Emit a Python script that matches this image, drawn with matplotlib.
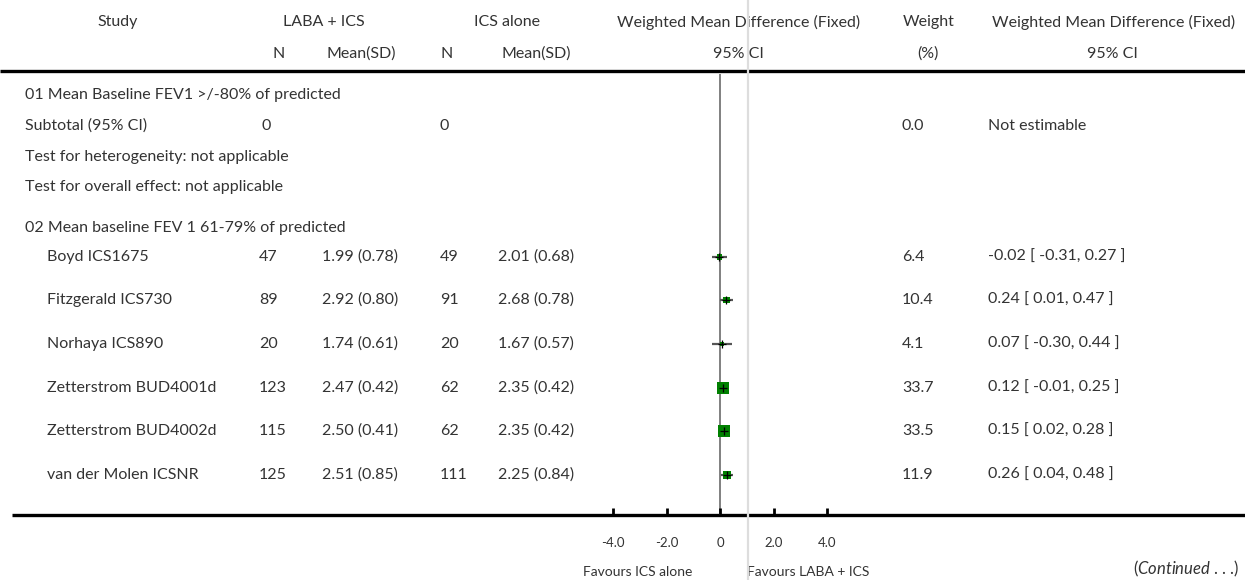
"""Forest plot: LABA + ICS vs ICS alone, FEV1 subgroups."""
import matplotlib
matplotlib.use("Agg")
import matplotlib.pyplot as plt
import numpy as np

plt.rcParams["font.family"] = ["Lato", "DejaVu Sans"]
plt.rcParams["mathtext.fontset"] = "custom"
plt.rcParams["mathtext.rm"] = "Lato"
plt.rcParams["mathtext.it"] = "Lato:italic"

# ── data ──────────────────────────────────────────────────────────────────
STUDIES   = ["Boyd ICS1675", "Fitzgerald ICS730", "Norhaya ICS890",
             "Zetterstrom BUD4001d", "Zetterstrom BUD4002d", "van der Molen ICSNR"]
N_LABA    = [47, 89, 20, 123, 115, 125]
MEAN_LABA = [1.99, 2.92, 1.74, 2.47, 2.50, 2.51]
SD_LABA   = [0.78, 0.80, 0.61, 0.42, 0.41, 0.85]
N_ICS     = [49, 91, 20, 62, 62, 111]
MEAN_ICS  = [2.01, 2.68, 1.67, 2.35, 2.35, 2.25]
SD_ICS    = [0.68, 0.78, 0.57, 0.42, 0.42, 0.84]
WMD       = [-0.02, 0.24, 0.07, 0.12, 0.15, 0.26]
CI_LO     = [-0.31, 0.01, -0.30, -0.01, 0.02, 0.04]
CI_HI     = [0.27, 0.47, 0.44, 0.25, 0.28, 0.48]
WEIGHT    = [6.4, 10.4, 4.1, 33.7, 33.5, 11.9]
X_TICKS   = [-4.0, -2.0, 0.0, 2.0, 4.0]
X_TICK_LABELS = ["-4.0", "-2.0", "0", "2.0", "4.0"]

# ── layout (pixels, y from top) ───────────────────────────────────────────
W, H = 1245, 580
ROW_Y = [257, 300, 344, 388, 431, 475]
TOP_RULE, BOTTOM_RULE = 71, 515
ZERO_PX, PX_PER_UNIT = 720, 26.75
FX_LEFT, FX_RIGHT = 560, 880
TXT = "#333333"
FS = 11.5

fig = plt.figure(figsize=(W / 100, H / 100), dpi=100)
ax = fig.add_axes([0, 0, 1, 1])
ax.set_xlim(0, W)
ax.set_ylim(H, 0)
ax.axis("off")

fx = fig.add_axes([FX_LEFT / W, (H - BOTTOM_RULE) / H,
                   (FX_RIGHT - FX_LEFT) / W, BOTTOM_RULE / H])
fx.set_xlim((FX_LEFT - ZERO_PX) / PX_PER_UNIT, (FX_RIGHT - ZERO_PX) / PX_PER_UNIT)
fx.set_ylim(BOTTOM_RULE, 0)
fx.patch.set_alpha(0)
for s in fx.spines.values():
    s.set_visible(False)
fx.set_yticks([])
fx.set_xticks(X_TICKS)
fx.set_xticklabels(X_TICK_LABELS, fontsize=9.5, color=TXT)
fx.tick_params(axis="x", direction="in", length=5, width=2, color="black", pad=16)

# faint reference line across the whole figure
fx.axvline(1.05, ymin=-(H - BOTTOM_RULE) / BOTTOM_RULE, ymax=1, color="#dddddd",
           lw=1.6, clip_on=False, zorder=0)
# line of no effect
fx.vlines(0, TOP_RULE + 3, BOTTOM_RULE, color="#808080", lw=1.4, zorder=1)

# ── header ────────────────────────────────────────────────────────────────
def t(x, y, s, ha="left", **kw):
    ax.text(x, y, s, ha=ha, va="center", fontsize=kw.pop("fontsize", FS),
            color=TXT, **kw)

t(118, 22, "Study", ha="center")
t(324, 22, "LABA + ICS", ha="center")
t(507, 22, "ICS alone", ha="center")
t(739, 22, "Weighted Mean Difference (Fixed)", ha="center")
t(929, 22, "Weight", ha="center")
t(1114, 22, "Weighted Mean Difference (Fixed)", ha="center")
t(279, 54, "N", ha="center")
t(361, 54, "Mean(SD)", ha="center")
t(447, 54, "N", ha="center")
t(536, 54, "Mean(SD)", ha="center")
t(738, 54, "95% CI", ha="center")
t(928, 54, "(%)", ha="center")
t(1112, 54, "95% CI", ha="center")
ax.plot([0, W], [TOP_RULE, TOP_RULE], color="black", lw=2.4, solid_capstyle="butt")

# ── subgroup 01 ───────────────────────────────────────────────────────────
t(25, 95, "01 Mean Baseline FEV1 >/-80% of predicted")
t(25, 126, "Subtotal (95% CI)")
t(261, 126, "0")
t(440, 126, "0")
t(902, 126, "0.0")
t(988, 126, "Not estimable")
t(25, 157, "Test for heterogeneity: not applicable")
t(25, 187, "Test for overall effect: not applicable")

# ── subgroup 02 ───────────────────────────────────────────────────────────
t(25, 228, "02 Mean baseline FEV 1 61-79% of predicted")
for i, y in enumerate(ROW_Y):
    t(47, y, STUDIES[i])
    t(259, y, f"{N_LABA[i]}")
    t(322, y, f"{MEAN_LABA[i]:.2f} ({SD_LABA[i]:.2f})")
    t(440, y, f"{N_ICS[i]}")
    t(498, y, f"{MEAN_ICS[i]:.2f} ({SD_ICS[i]:.2f})")
    t(902, y, f"{WEIGHT[i]:.1f}")
    t(988, y, f"{WMD[i]:.2f} [ {CI_LO[i]:.2f}, {CI_HI[i]:.2f} ]")

# forest marks
fx.hlines(ROW_Y, CI_LO, CI_HI, color="#555555", lw=1.6, zorder=2)
side_pt = 2.07 * np.sqrt(WEIGHT) * 0.72
fx.scatter(WMD, ROW_Y, s=side_pt ** 2, marker="s", color="#008000",
           linewidths=0, zorder=3)
fx.scatter(WMD, ROW_Y, s=30, marker="+", color="black", linewidths=0.9, zorder=4)

# ── bottom ────────────────────────────────────────────────────────────────
ax.plot([12, W], [BOTTOM_RULE, BOTTOM_RULE], color="black", lw=2.4,
        solid_capstyle="butt")
t(692, 572, "Favours ICS alone", ha="right", fontsize=10)
t(747, 572, "Favours LABA + ICS", fontsize=10)
t(1240, 569, r"($\it{Continued}$ . . .)", ha="right", fontsize=12)

fig.savefig("out.png", dpi=100)
